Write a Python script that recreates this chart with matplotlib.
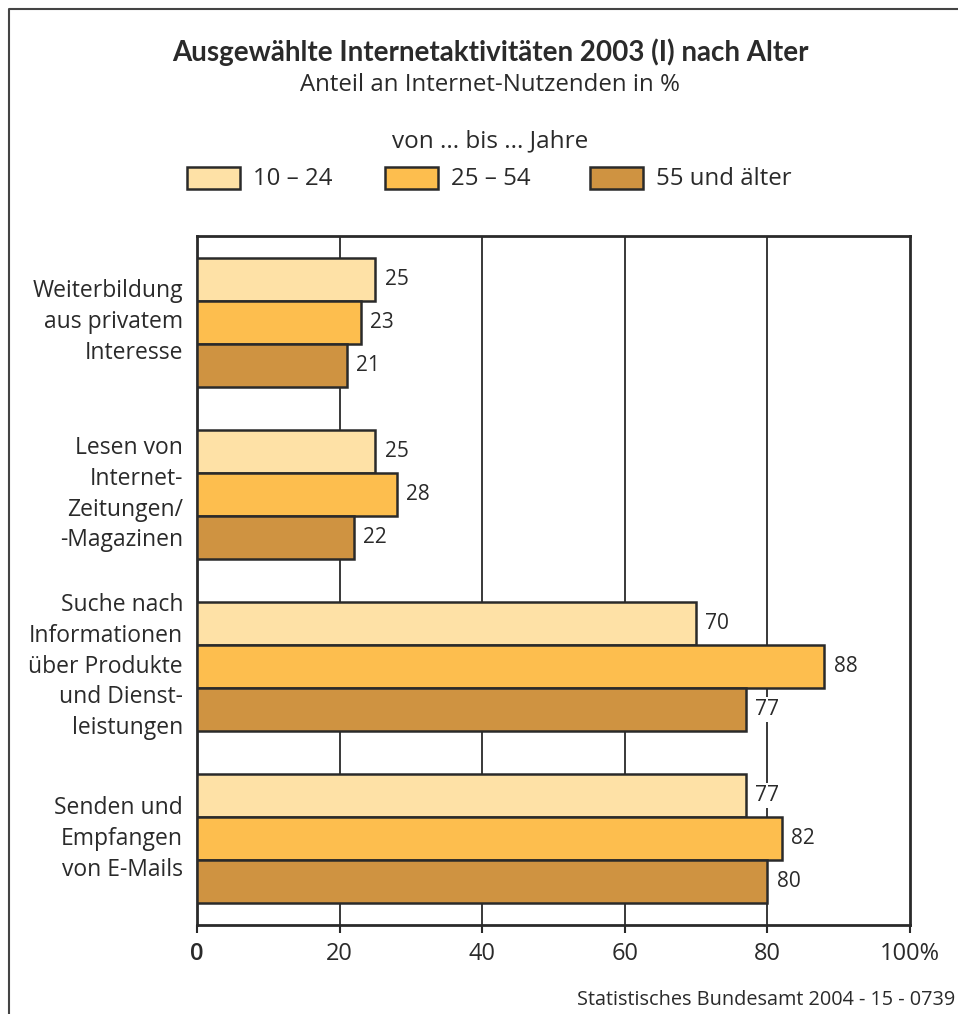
import numpy as np
import matplotlib
matplotlib.use("Agg")
import matplotlib.pyplot as plt
from matplotlib.lines import Line2D
from matplotlib.patches import Rectangle

plt.rcParams["font.family"] = ["Open Sans", "DejaVu Sans"]

categories = [
    "Weiterbildung\naus privatem\nInteresse",
    "Lesen von\nInternet-\nZeitungen/\n-Magazinen",
    "Suche nach\nInformationen\nüber Produkte\nund Dienst-\nleistungen",
    "Senden und\nEmpfangen\nvon E-Mails",
]
series_labels = ["10 – 24", "25 – 54", "55 und älter"]
values_10_24 = [25, 25, 70, 77]
values_25_54 = [23, 28, 88, 82]
values_55 = [21, 22, 77, 80]
colors = ["#fee1a6", "#fdbe4e", "#cf9341"]
xticks = [0, 20, 40, 60, 80, 100]
xticklabels = ["0", "20", "40", "60", "80", "100%"]

W, H = 958, 1014
fig = plt.figure(figsize=(W / 100, H / 100), dpi=100)
ax = fig.add_axes([197 / W, 1 - 925 / H, (910 - 197) / W, (925 - 236) / H])

ink = "#2a2a2a"
bar_h = 0.25
y = np.arange(len(categories))
for i, vals in enumerate([values_10_24, values_25_54, values_55]):
    ypos = y - bar_h + i * bar_h
    ax.barh(ypos, vals, height=bar_h, color=colors[i], edgecolor=ink,
            linewidth=1.8, zorder=3)
    for yy, v in zip(ypos, vals):
        ax.text(v + 1.3, yy, str(v), ha="left", va="center", fontsize=15,
                color=ink, zorder=4,
                bbox=dict(boxstyle="square,pad=0.1", fc="white", ec="none"))

ax.set_xlim(0, 100)
ax.set_ylim(len(categories) - 0.5, -0.5)
ax.set_yticks(y)
ax.set_yticklabels(categories, fontsize=16.5, color=ink, linespacing=1.37,
                   ha="right", va="center")
ax.tick_params(axis="y", length=0, pad=10)
ax.set_xticks(xticks)
ax.set_xticklabels(xticklabels, fontsize=17, color=ink)
ax.get_xticklabels()[0].set_fontweight("semibold")
ax.tick_params(axis="x", direction="out", length=6, width=1.5, color=ink,
               pad=6)
for x in xticks[1:-1]:
    ax.axvline(x, color=ink, linewidth=1.3, zorder=1)
for s in ax.spines.values():
    s.set_color(ink)
    s.set_linewidth(2)

# titles
fig.text(490 / W, 1 - 52 / H, "Ausgewählte Internetaktivitäten 2003 (I) nach Alter",
         ha="center", va="center", fontsize=20, fontweight="bold", color=ink,
         family=["Lato", "DejaVu Sans"])
fig.text(490 / W, 1 - 85 / H, "Anteil an Internet-Nutzenden in %",
         ha="center", va="center", fontsize=17.3, color=ink)
fig.text(490 / W, 1 - 141 / H, "von ... bis ... Jahre",
         ha="center", va="center", fontsize=17.5, color=ink)

# legend
legend_x = [187, 385, 590]
for lx, lab, c in zip(legend_x, series_labels, colors):
    fig.patches.append(Rectangle((lx / W, 1 - 189 / H), 53 / W, 22 / H,
                                 transform=fig.transFigure, facecolor=c,
                                 edgecolor=ink, linewidth=1.8))
    fig.text((lx + 66) / W, 1 - 179 / H, lab, ha="left", va="center",
             fontsize=17.3, color=ink)

fig.text(955 / W, 1 - 1000 / H, "Statistisches Bundesamt 2004 - 15 - 0739",
         ha="right", va="center", fontsize=14.3, color=ink)

# outer frame (left and top only visible)
fig.lines.append(Line2D([9 / W, 9 / W, 1.0], [0.0, 1 - 9 / H, 1 - 9 / H],
                        transform=fig.transFigure, color="#444444",
                        linewidth=1.5))

fig.savefig("out.png", dpi=100)
